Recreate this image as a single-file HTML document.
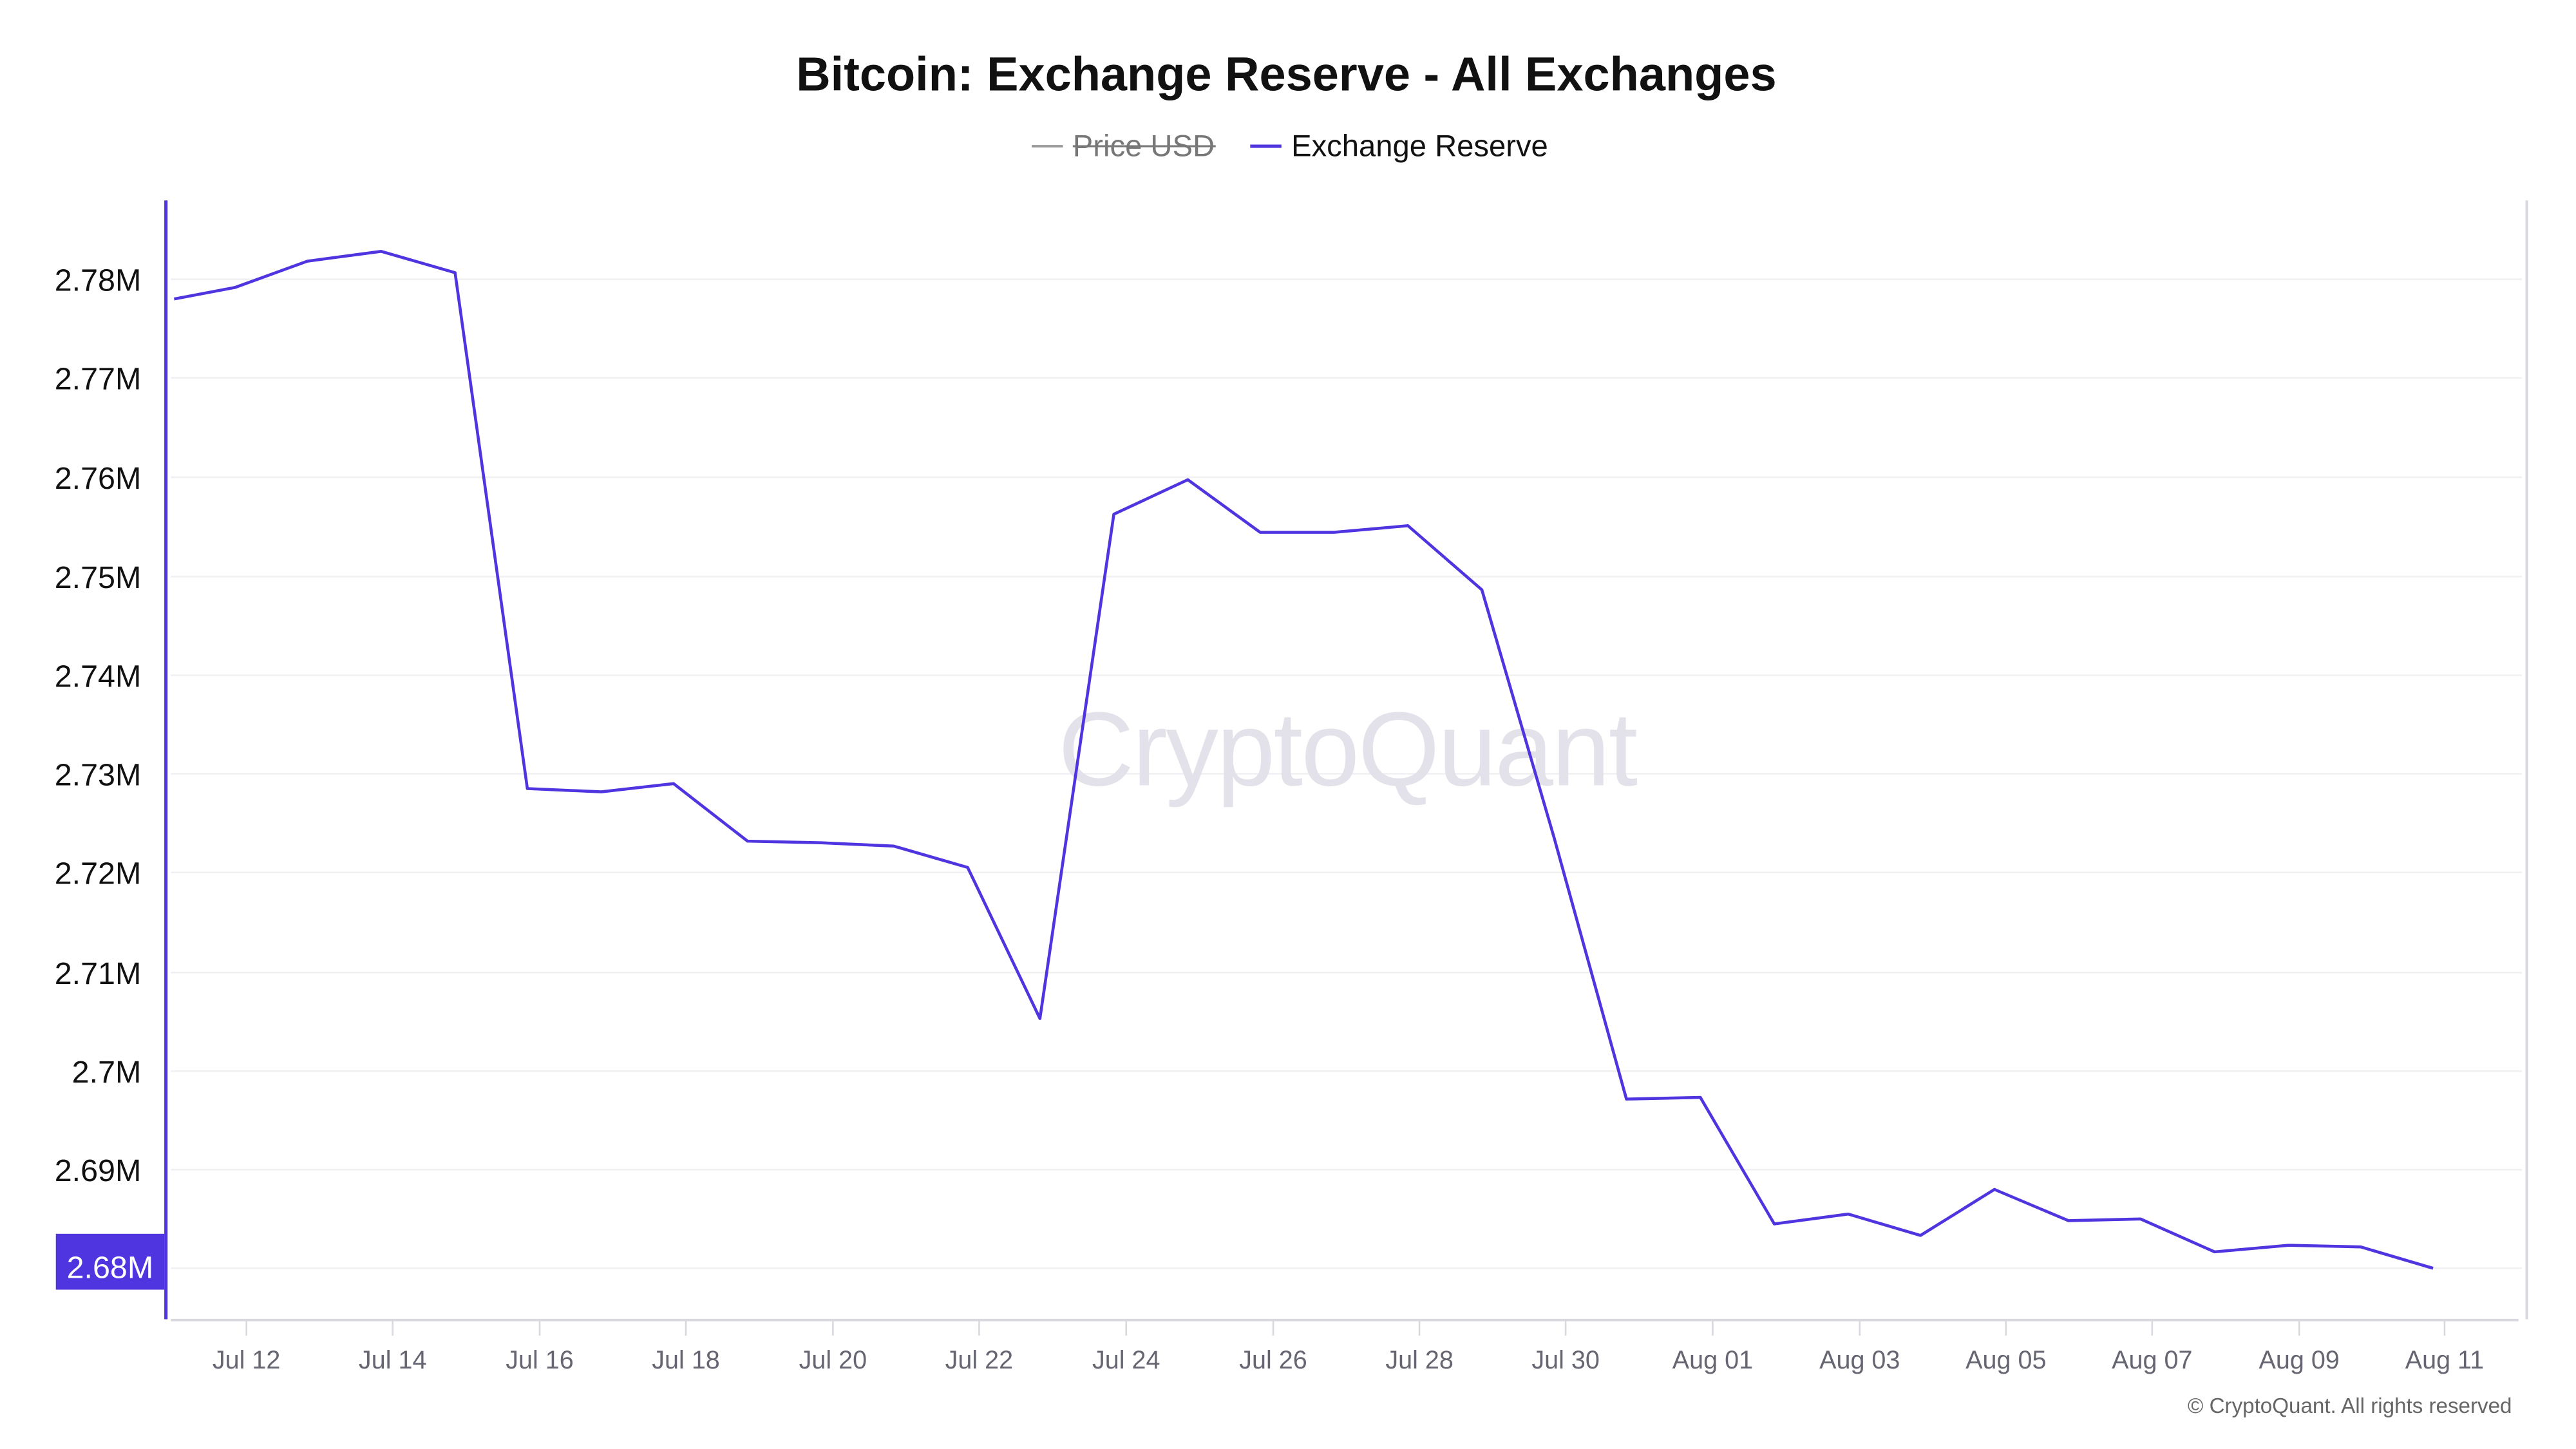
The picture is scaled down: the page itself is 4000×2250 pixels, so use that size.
<!DOCTYPE html>
<html><head><meta charset="utf-8"><style>
html,body{margin:0;padding:0;background:#fff;}
svg{display:block;font-family:"Liberation Sans",sans-serif;}
</style></head><body>
<svg width="4000" height="2250" viewBox="0 0 1568 882" preserveAspectRatio="none" xmlns="http://www.w3.org/2000/svg">
<rect width="1568" height="882" fill="#fff"/>
<text x="783" y="55" text-anchor="middle" font-size="29" font-weight="bold" fill="#111">Bitcoin: Exchange Reserve - All Exchanges</text>
<line x1="628" y1="89" x2="647" y2="89" stroke="#999" stroke-width="1.5"/>
<text x="653" y="95" font-size="18.5" fill="#777">Price USD</text>
<line x1="653" y1="89" x2="740" y2="89" stroke="#777" stroke-width="1.2"/>
<line x1="761" y1="89" x2="780" y2="89" stroke="#4f35e0" stroke-width="2"/>
<text x="786" y="95" font-size="18.5" fill="#111">Exchange Reserve</text>
<g stroke="#f0f0f3" stroke-width="1">
<line x1="104" y1="170" x2="1535" y2="170"/><line x1="104" y1="230" x2="1535" y2="230"/>
<line x1="104" y1="290.5" x2="1535" y2="290.5"/><line x1="104" y1="351" x2="1535" y2="351"/>
<line x1="104" y1="411" x2="1535" y2="411"/><line x1="104" y1="471" x2="1535" y2="471"/>
<line x1="104" y1="531" x2="1535" y2="531"/><line x1="104" y1="592" x2="1535" y2="592"/>
<line x1="104" y1="652" x2="1535" y2="652"/><line x1="104" y1="712" x2="1535" y2="712"/>
<line x1="104" y1="772" x2="1535" y2="772"/>
</g>
<text x="820" y="478" text-anchor="middle" font-size="64" fill="#e3e2ea" letter-spacing="-1">CryptoQuant</text>
<line x1="1538" y1="122" x2="1538" y2="803" stroke="#d8d8de" stroke-width="1.5"/>
<line x1="104" y1="803.5" x2="1533" y2="803.5" stroke="#d8d8de" stroke-width="1.5"/>
<g stroke="#d8d8de" stroke-width="1">
<line x1="150" y1="804" x2="150" y2="813"/><line x1="239" y1="804" x2="239" y2="813"/>
<line x1="328.5" y1="804" x2="328.5" y2="813"/><line x1="417.5" y1="804" x2="417.5" y2="813"/>
<line x1="507" y1="804" x2="507" y2="813"/><line x1="596" y1="804" x2="596" y2="813"/>
<line x1="685.5" y1="804" x2="685.5" y2="813"/><line x1="775" y1="804" x2="775" y2="813"/>
<line x1="864" y1="804" x2="864" y2="813"/><line x1="953" y1="804" x2="953" y2="813"/>
<line x1="1042.5" y1="804" x2="1042.5" y2="813"/><line x1="1132" y1="804" x2="1132" y2="813"/>
<line x1="1221" y1="804" x2="1221" y2="813"/><line x1="1310" y1="804" x2="1310" y2="813"/>
<line x1="1399.5" y1="804" x2="1399.5" y2="813"/><line x1="1488" y1="804" x2="1488" y2="813"/>
</g>
<g font-size="15.5" fill="#666672" text-anchor="middle">
<text x="150" y="833">Jul 12</text><text x="239" y="833">Jul 14</text><text x="328.5" y="833">Jul 16</text>
<text x="417.5" y="833">Jul 18</text><text x="507" y="833">Jul 20</text><text x="596" y="833">Jul 22</text>
<text x="685.5" y="833">Jul 24</text><text x="775" y="833">Jul 26</text><text x="864" y="833">Jul 28</text>
<text x="953" y="833">Jul 30</text><text x="1042.5" y="833">Aug 01</text><text x="1132" y="833">Aug 03</text>
<text x="1221" y="833">Aug 05</text><text x="1310" y="833">Aug 07</text><text x="1399.5" y="833">Aug 09</text>
<text x="1488" y="833">Aug 11</text>
</g>
<g font-size="19" fill="#111" text-anchor="end">
<text x="86" y="177">2.78M</text><text x="86" y="237">2.77M</text><text x="86" y="297.5">2.76M</text>
<text x="86" y="358">2.75M</text><text x="86" y="418">2.74M</text><text x="86" y="478">2.73M</text>
<text x="86" y="538">2.72M</text><text x="86" y="599">2.71M</text><text x="86" y="659">2.7M</text>
<text x="86" y="719">2.69M</text><text x="86" y="779">2.68M</text>
</g>
<rect x="34" y="751" width="66" height="34" fill="#4f35e0"/>
<text x="67" y="778" text-anchor="middle" font-size="19" fill="#fff">2.68M</text>
<line x1="101" y1="122" x2="101" y2="803" stroke="#4f35e0" stroke-width="2"/>
<polyline fill="none" stroke="#4f35e0" stroke-width="1.8" stroke-linejoin="round" points="106,182 143,175 187,159 232,153 277,166 321,480 366,482 410,477 455,512 500,513 544,515 589,528 633,620 678,313 723,292 767,324 812,324 857,320 902,359 946,510 990,669 1035,668 1080,745 1125,739 1169,752 1214,724 1259,743 1303,742 1348,762 1393,758 1437,759 1481,772"/>
<text x="1529" y="860" text-anchor="end" font-size="13" fill="#666">© CryptoQuant. All rights reserved</text>
</svg>
</body></html>
